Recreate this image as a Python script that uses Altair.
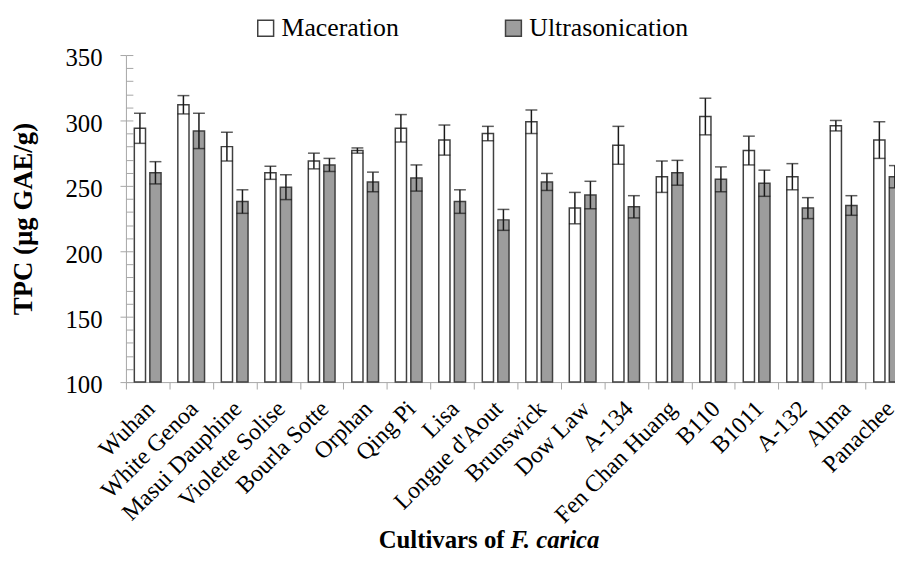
import altair as alt
import pandas as pd

cultivars = ["Wuhan", "White Genoa", "Masui Dauphine", "Violette Solise", "Bourla Sotte",
             "Orphan", "Qing Pi", "Lisa", "Longue d'Aout", "Brunswick", "Dow Law", "A-134",
             "Fen Chan Huang", "B110", "B1011", "A-132", "Alma", "Panachee"]
maceration = [294, 312, 280, 260, 269, 277, 294, 285, 290, 299, 233, 281, 257, 303, 277, 257, 296, 285]
maceration_err = [11.5, 7, 11, 5, 6, 2, 10.5, 11.5, 5.5, 9, 12, 14.5, 12, 14, 11, 10, 4, 14]
ultrasonication = [260, 292, 238, 249, 266, 253, 256, 238, 224, 253, 243, 234, 260, 255, 252, 233, 235, 257]
ultrasonication_err = [8.5, 13.5, 9, 9.5, 5, 7.5, 10, 9, 8, 6.5, 10.5, 8.5, 9.5, 9.5, 10, 8, 7.5, 8.5]
methods = ["Maceration", "Ultrasonication"]
y_major = [100, 150, 200, 250, 300, 350]
y_minor = [100, 110, 120, 130, 140, 150, 160, 170, 180, 190, 200, 210, 220, 230, 240, 250,
           260, 270, 280, 290, 300, 310, 320, 330, 340, 350]

rows = []
for c, m, me, u, ue in zip(cultivars, maceration, maceration_err, ultrasonication, ultrasonication_err):
    rows.append({"cultivar": c, "method": "Maceration", "value": m, "lo": m - me, "hi": m + me})
    rows.append({"cultivar": c, "method": "Ultrasonication", "value": u, "lo": u - ue, "hi": u + ue})
df = pd.DataFrame(rows)

AX = "#a6a6a6"
FONT = "Liberation Serif"

x_axis = alt.Axis(orient="bottom", tickBand="extent", tickSize=7, tickColor=AX, tickWidth=1,
                  domainColor=AX, domainWidth=1, labelAngle=-45, labelAlign="right",
                  labelBaseline="middle", labelFont=FONT, labelFontSize=24, labelColor="black",
                  labelPadding=16, labelOffset=3, labelLimit=300, labelOverlap=False, grid=False)
x_enc = alt.X("cultivar:N", sort=cultivars, title=None,
              scale=alt.Scale(range=[0, 790], paddingInner=0, paddingOuter=0), axis=x_axis)
xoff = alt.XOffset("method:N", sort=methods,
                   scale=alt.Scale(domain=methods, paddingInner=0.28, paddingOuter=0.54))
yscale = alt.Scale(domain=[100, 350], nice=False, zero=False)

y_main = alt.Axis(orient="left", values=y_major, tickSize=6, tickColor=AX, tickWidth=1,
                  domainColor=AX, domainWidth=1, labelFont=FONT, labelFontSize=25,
                  labelColor="black", labelPadding=18, labelOffset=3, grid=False,
                  title="TPC (µg GAE/g)", titleFont=FONT, titleFontSize=27, titleFontWeight="bold",
                  titleColor="black", titleX=-95, titleY=165, titleAngle=270, titleAlign="center",
                  titleBaseline="alphabetic")
y_minor_axis = alt.Axis(orient="left", values=y_minor, offset=-7, tickSize=7, tickColor=AX,
                        tickWidth=1, domain=False, labels=False, grid=False, title=None)

base = alt.Chart(df)

bars = base.mark_bar(stroke="#404040", strokeWidth=1.5).encode(
    x=x_enc,
    xOffset=xoff,
    y=alt.Y("value:Q", scale=yscale, axis=y_main),
    y2=alt.datum(100),
    fill=alt.Fill("method:N", sort=methods,
                  scale=alt.Scale(domain=methods, range=["#ffffff", "#9d9d9d"]),
                  legend=alt.Legend(orient="none", legendX=128, legendY=-40, direction="horizontal",
                                    columns=2, columnPadding=102, title=None, symbolType="square",
                                    symbolSize=256, symbolStrokeColor="#404040", symbolStrokeWidth=1.5,
                                    labelFont=FONT, labelFontSize=26, labelColor="black",
                                    labelOffset=3, labelLimit=400, padding=0)),
)

rules = base.mark_rule(color="#1a1a1a", strokeWidth=1.5).encode(
    x=x_enc, xOffset=xoff,
    y=alt.Y("lo:Q", scale=yscale, axis=y_minor_axis),
    y2="hi:Q",
)
cap_hi = base.mark_tick(color="#1a1a1a", thickness=1.5, size=12).encode(
    x=x_enc, xOffset=xoff, y=alt.Y("hi:Q", scale=yscale, axis=None))
cap_lo = base.mark_tick(color="#1a1a1a", thickness=1.5, size=12).encode(
    x=x_enc, xOffset=xoff, y=alt.Y("lo:Q", scale=yscale, axis=None))

t1 = alt.Chart(pd.DataFrame({"t": ["Cultivars of"]})).mark_text(
    font=FONT, fontSize=25, fontWeight="bold", align="right", baseline="alphabetic", color="black"
).encode(text="t:N", x=alt.value(382), y=alt.value(497))
t2 = alt.Chart(pd.DataFrame({"t": ["F. carica"]})).mark_text(
    font=FONT, fontSize=25, fontWeight="bold", fontStyle="italic", align="left",
    baseline="alphabetic", color="black"
).encode(text="t:N", x=alt.value(388), y=alt.value(497))

chart = alt.layer(bars, rules, cap_hi, cap_lo, t1, t2).resolve_axis(y="independent").properties(
    width=776, height=330,
    autosize=alt.AutoSizeParams(type="none"),
    padding={"left": 119, "top": 45, "right": 0, "bottom": 173},
).configure(font=FONT).configure_view(strokeWidth=0).configure_legend(
    labelFont=FONT, labelFontSize=26, labelColor="black"
)

chart.save("out.html", embed_options={"renderer": "svg", "actions": False})
